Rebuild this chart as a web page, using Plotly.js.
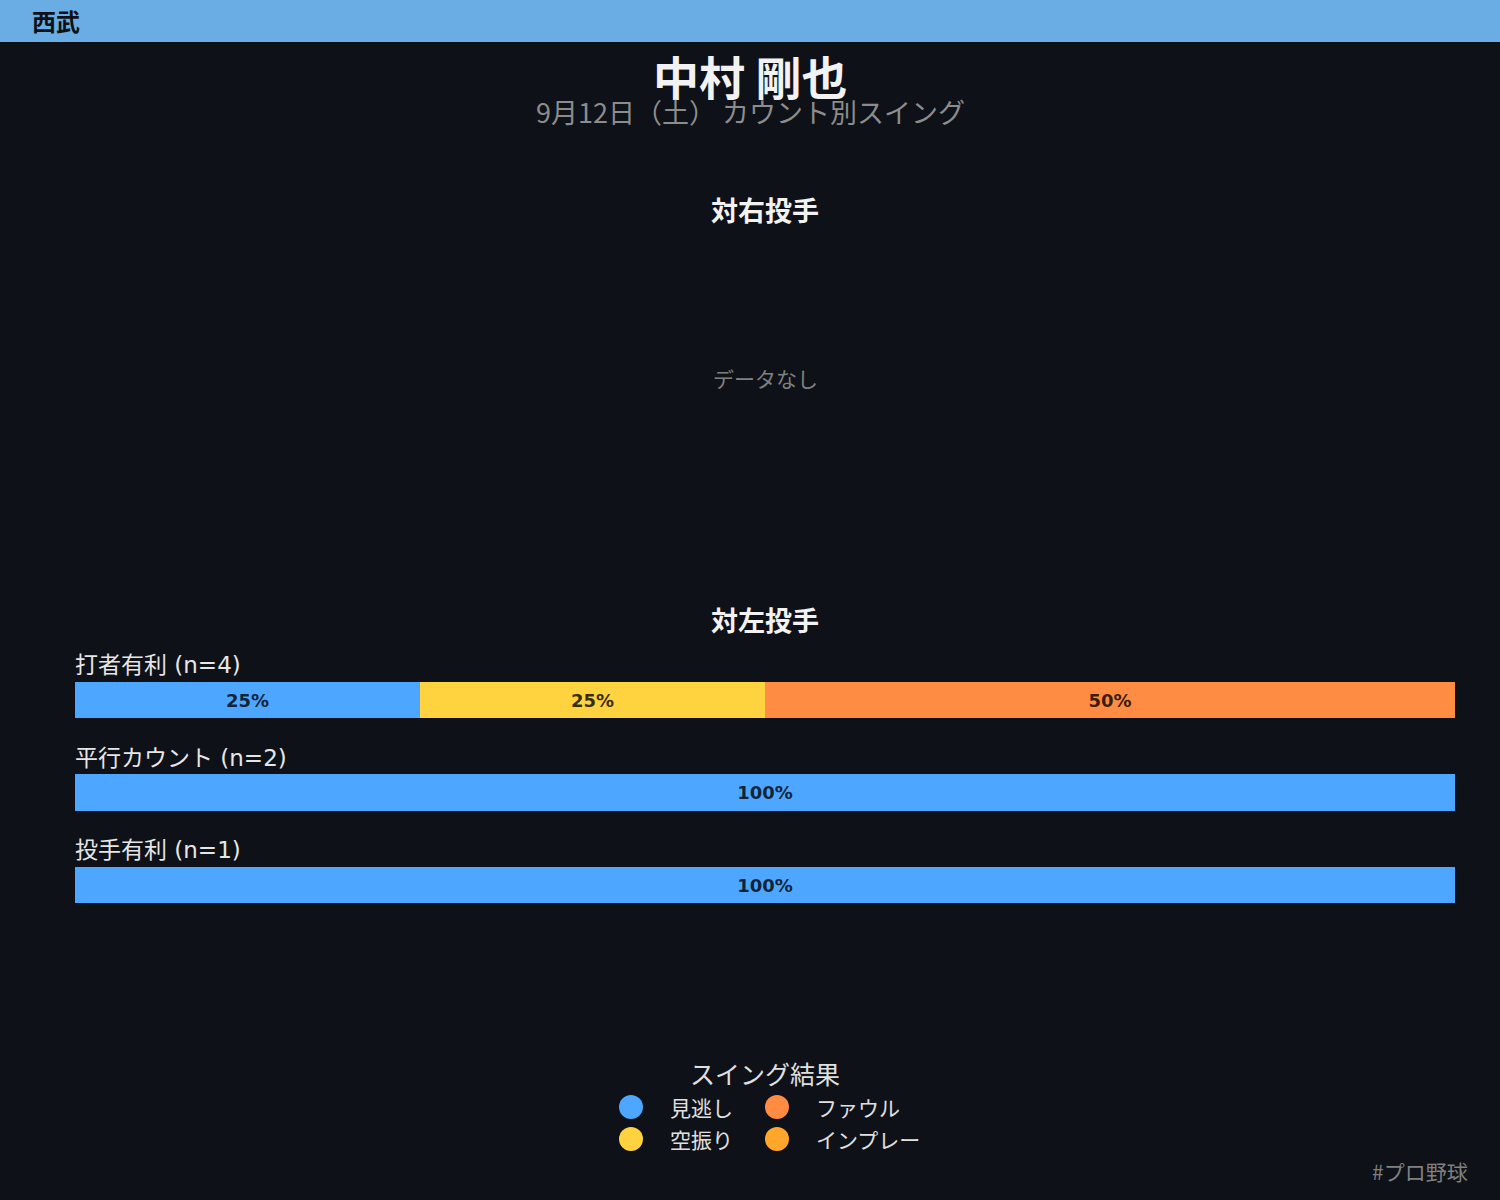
<!DOCTYPE html>
<html>
<head>
<meta charset="utf-8">
<script src="https://cdn.plot.ly/plotly-3.0.1.min.js"></script>
<style>
  html, body { margin: 0; padding: 0; background: #0e1117; }
  #grafico { width: 1500px; height: 1200px; }
</style>
</head>
<body>
<div id="grafico"></div>
<script>
// datos: カウント別スイング (対左投手)
var categorias = ["打者有利", "平行カウント", "投手有利"];
var numeros = [4, 2, 1];
var resultados = ["見逃し", "空振り", "ファウル", "インプレー"];
var colores = ["#4da6ff", "#ffd23f", "#ff8c42", "#ffa62b"];
var valMinogashi = [25, 100, 100];
var valKaraburi = [25, 0, 0];
var valFoul = [50, 0, 0];
var valInplay = [0, 0, 0];
var valores = [valMinogashi, valKaraburi, valFoul, valInplay];

var W = 1500, H = 1200;
function px(x) { return x / W; }
function py(y) { return 1 - y / H; }

var fuenteJP = "'Noto Sans CJK JP', 'DejaVu Sans', sans-serif";
var fuenteLat = "'DejaVu Sans', 'Noto Sans CJK JP', sans-serif";

// barras apiladas
var data = resultados.map(function (nombre, i) {
  return {
    type: "bar",
    orientation: "h",
    name: nombre,
    y: categorias,
    x: valores[i],
    marker: { color: colores[i], line: { width: 0 } },
    text: valores[i].map(function (v) { return v > 0 ? v + "%" : ""; }),
    textposition: "inside",
    insidetextanchor: "middle",
    constraintext: "none",
    textfont: { family: fuenteLat, size: 18, weight: "bold", color: "rgba(0,0,0,0.8)" },
    hoverinfo: "skip",
    showlegend: false
  };
});

var anotaciones = [
  { text: "<b>西武</b>", x: px(30), y: py(21), xanchor: "left", font: { size: 24, color: "#0e1117", family: fuenteJP } },
  { text: "<b>中村 剛也</b>", x: px(750), y: py(75), font: { size: 46, color: "#f2f2f2", family: fuenteJP } },
  { text: "9月12日（土） カウント別スイング", x: px(750), y: py(111), font: { size: 27, color: "#8c8c8c", family: fuenteJP } },
  { text: "<b>対右投手</b>", x: px(765), y: py(209), font: { size: 27, color: "#f2f2f2", family: fuenteJP } },
  { text: "データなし", x: px(765), y: py(378), font: { size: 21, color: "#808080", family: fuenteJP } },
  { text: "<b>対左投手</b>", x: px(765), y: py(619), font: { size: 27, color: "#f2f2f2", family: fuenteJP } },
  { text: "スイング結果", x: px(765), y: py(1073), font: { size: 25, color: "#e0e0e0", family: fuenteJP } },
  { text: "#プロ野球", x: px(1470), y: py(1171), xanchor: "right", font: { size: 21, color: "#808080", family: fuenteJP } }
];
anotaciones.forEach(function (a) {
  a.xref = "paper"; a.yref = "paper"; a.showarrow = false;
  if (!a.xanchor) a.xanchor = "center";
  a.yanchor = "middle";
});

// etiquetas de cada fila
categorias.forEach(function (c, i) {
  anotaciones.push({
    text: c + " (n=" + numeros[i] + ")",
    xref: "x", yref: "y", x: 0, y: c,
    xanchor: "left", yanchor: "middle", yshift: 35, xshift: -2,
    showarrow: false,
    font: { size: 23, color: "#e6e6e6", family: fuenteLat }
  });
});

// cabecera
var formas = [
  { type: "rect", xref: "paper", yref: "paper", x0: 0, x1: 1, y0: py(42), y1: 1,
    fillcolor: "#6aade4", line: { width: 0 }, layer: "below" }
];

// leyenda a mano (2 columnas)
var posLeyenda = [[631, 1107], [631, 1139], [777, 1107], [777, 1139]];
resultados.forEach(function (nombre, i) {
  var p = posLeyenda[i];
  formas.push({
    type: "circle", xref: "paper", yref: "paper",
    xsizemode: "pixel", ysizemode: "pixel",
    xanchor: px(p[0]), yanchor: py(p[1]),
    x0: -12, x1: 12, y0: -12, y1: 12,
    fillcolor: colores[i], line: { width: 0 }
  });
  anotaciones.push({
    text: nombre, xref: "paper", yref: "paper",
    x: px(p[0] + 37), y: py(p[1]), xanchor: "left", yanchor: "middle",
    showarrow: false,
    font: { size: 21, color: "#e0e0e0", family: fuenteJP }
  });
});

var layout = {
  width: W, height: H,
  margin: { l: 0, r: 0, t: 0, b: 0 },
  paper_bgcolor: "#0e1117",
  plot_bgcolor: "#0e1117",
  barmode: "stack",
  bargap: 0.61,
  showlegend: false,
  xaxis: { domain: [px(75), px(1455)], range: [0, 100], visible: false, fixedrange: true },
  yaxis: { domain: [py(931.25), py(653.75)], type: "category", categoryarray: categorias,
           range: [2.5, -0.5], visible: false, fixedrange: true },
  annotations: anotaciones,
  shapes: formas
};

Plotly.newPlot("grafico", data, layout, { staticPlot: true });
</script>
</body>
</html>
